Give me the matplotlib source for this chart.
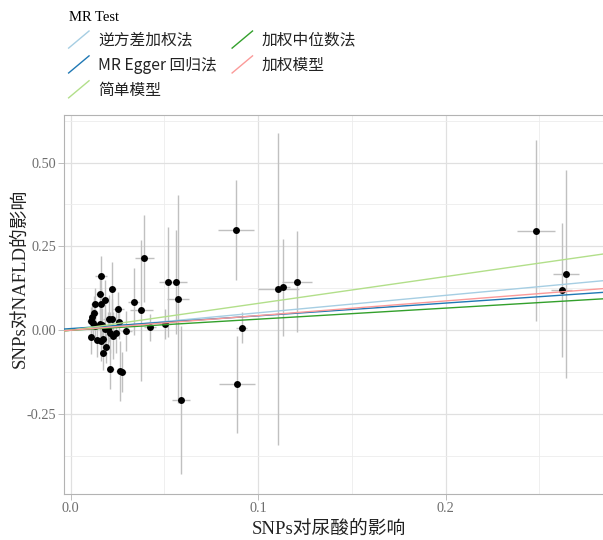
import matplotlib
matplotlib.use('Agg')
from matplotlib import pyplot as plt
from matplotlib.lines import Line2D
from matplotlib.legend_handler import HandlerBase

# SNP effects on exposure (uric acid) and outcome (NAFLD), with standard errors
beta_x = [0.0163, 0.0157, 0.0129, 0.0160, 0.0184, 0.0223, 0.0124, 0.0117,
          0.0122, 0.0157, 0.0205, 0.0223, 0.0255, 0.0259, 0.0186, 0.0111,
          0.0143, 0.0161, 0.0175, 0.0211, 0.0225, 0.0243, 0.0188, 0.0175,
          0.0212, 0.0264, 0.0275, 0.0298, 0.0337, 0.0378, 0.0394, 0.0424,
          0.0506, 0.0522, 0.0561, 0.0572, 0.0589, 0.0884, 0.0913, 0.0888,
          0.1108, 0.1133, 0.1206, 0.2483, 0.2641, 0.2620,
          0.0110, 0.0130, 0.0170, 0.0200]
beta_y = [0.162, 0.107, 0.077, 0.077, 0.090, 0.122, 0.052, 0.041,
          0.023, 0.019, 0.034, 0.034, 0.063, 0.024, 0.004, -0.021,
          -0.029, -0.032, -0.026, -0.007, -0.016, -0.007, -0.049, -0.069,
          -0.115, -0.121, -0.125, -0.002, 0.085, 0.060, 0.215, 0.009,
          0.018, 0.144, 0.144, 0.094, -0.208, 0.299, 0.008, -0.161,
          0.124, 0.128, 0.145, 0.297, 0.167, 0.121,
          0.028, 0.012, 0.015, 0.003]
se_x = [0.003, 0.002, 0.002, 0.002, 0.002, 0.002, 0.002, 0.002,
        0.002, 0.002, 0.003, 0.002, 0.003, 0.002, 0.002, 0.002,
        0.002, 0.002, 0.002, 0.002, 0.002, 0.002, 0.002, 0.002,
        0.002, 0.002, 0.002, 0.003, 0.003, 0.006, 0.005, 0.003,
        0.003, 0.005, 0.006, 0.006, 0.005, 0.0095, 0.003, 0.0095,
        0.011, 0.004, 0.008, 0.010, 0.007, 0.0055,
        0.002, 0.002, 0.002, 0.002]
se_y = [0.060, 0.060, 0.050, 0.050, 0.060, 0.080, 0.050, 0.040,
        0.040, 0.050, 0.070, 0.060, 0.050, 0.050, 0.060, 0.050,
        0.050, 0.060, 0.050, 0.060, 0.070, 0.060, 0.050, 0.050,
        0.060, 0.090, 0.060, 0.060, 0.100, 0.210, 0.130, 0.040,
        0.045, 0.165, 0.155, 0.310, 0.220, 0.150, 0.047, 0.145,
        0.465, 0.145, 0.150, 0.270, 0.310, 0.200,
        0.040, 0.040, 0.050, 0.050]

methods = ['逆方差加权法', 'MR Egger 回归法', '简单模型', '加权中位数法', '加权模型']
intercepts = [0.0, 0.005, 0.0, 0.0, 0.0]
slopes = [0.52, 0.38, 0.80, 0.33, 0.437]
colors = ['#a6cee3', '#1f78b4', '#b2df8a', '#33a02c', '#fb9a99']

serif = ['Liberation Serif', 'Noto Sans CJK SC']
cjk = ['Noto Sans CJK SC', 'DejaVu Sans']


class DiagonalKey(HandlerBase):
    # ggplot-style abline key: a diagonal stroke
    def create_artists(self, legend, orig_handle, xdescent, ydescent,
                       width, height, fontsize, trans):
        ln = Line2D([-xdescent, -xdescent + width],
                    [-ydescent, -ydescent + height],
                    color=orig_handle.get_color(), lw=1.0)
        ln.set_transform(trans)
        return [ln]


fig = plt.figure(figsize=(6.03, 5.40), dpi=100)
ax = fig.add_axes([0.1061, 0.0852, 0.8939, 0.7024])

ax.errorbar(beta_x, beta_y, xerr=se_x, yerr=se_y, fmt='none',
            ecolor='#c0c0c0', elinewidth=1.0, capsize=0, zorder=2)
ax.scatter(beta_x, beta_y, s=25, color='black', zorder=3, linewidths=0)

handles = []
for m, b, k, c in zip(methods, intercepts, slopes, colors):
    ax.axline((0, b), slope=k, color=c, lw=1.0, zorder=4)
    handles.append(Line2D([], [], color=c, label=m))

ax.set_xlim(-0.0035, 0.284)
ax.set_ylim(-0.488, 0.6425)
ax.set_xticks([0.0, 0.1, 0.2])
ax.set_xticklabels(['0.0', '0.1', '0.2'])
ax.set_xticks([0.05, 0.15, 0.25], minor=True)
ax.set_yticks([-0.25, 0.0, 0.25, 0.5])
ax.set_yticklabels(['-0.25', '0.00', '0.25', '0.50'])
ax.set_yticks([-0.375, -0.125, 0.125, 0.375, 0.625], minor=True)
ax.grid(which='major', color='#e0e0e0', lw=0.9)
ax.grid(which='minor', color='#ececec', lw=0.6)
ax.set_axisbelow(True)
ax.tick_params(which='major', length=4, width=0.6, color='#b3b3b3',
               labelcolor='#6e6e6e', labelsize=10.3, pad=1.5)
ax.tick_params(which='minor', length=0)
for lab in ax.get_xticklabels() + ax.get_yticklabels():
    lab.set_family(serif)
for side in ['left', 'bottom', 'top']:
    ax.spines[side].set_color('#b3b3b3')
    ax.spines[side].set_linewidth(0.8)
ax.spines['right'].set_visible(False)

ax.set_xlabel('SNPs对尿酸的影响', family=serif, fontsize=13.5,
              color='#222222')
ax.xaxis.set_label_coords(0.4917, -0.069)
ax.set_ylabel('SNPs对NAFLD的影响', family=serif, fontsize=13.5,
              color='#222222')
ax.yaxis.set_label_coords(-0.066, 0.5695)

leg = fig.legend(handles=handles, ncol=2, loc='upper left',
                 bbox_to_anchor=(0.093, 1.003), frameon=False,
                 title='MR Test', alignment='left',
                 prop={'family': cjk, 'size': 11.3},
                 title_fontproperties={'family': serif, 'size': 10.5},
                 handler_map={Line2D: DiagonalKey()},
                 handlelength=1.3, handleheight=1.3, handletextpad=0.6,
                 columnspacing=0.95, labelspacing=0.45, borderpad=0.3)
for t in leg.get_texts():
    t.set_color('#222222')

fig.savefig('out.png', dpi=100)
